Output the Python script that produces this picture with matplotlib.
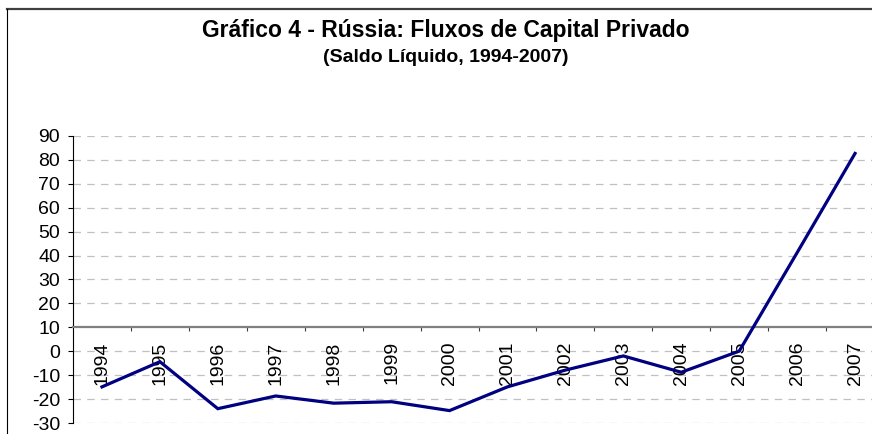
import numpy as np
import matplotlib
matplotlib.use("Agg")
import matplotlib.pyplot as plt
from matplotlib.lines import Line2D

plt.rcParams['font.family'] = ['Liberation Sans', 'DejaVu Sans']

# data
anos = ['1994', '1995', '1996', '1997', '1998', '1999', '2000',
        '2001', '2002', '2003', '2004', '2005', '2006', '2007']
saldo = [-14.8, -4.3, -23.9, -18.6, -21.6, -21.0, -24.7,
         -14.8, -7.8, -1.9, -8.7, 0.1, 41.2, 82.6]
y_ticks = list(range(-30, 91, 10))

W, H = 872, 434
fig = plt.figure(figsize=(W / 100, H / 100), dpi=100)

# plot area in pixels (right edge runs past the crop like the original)
left_px, right_px, top_px, bot_px = 73, 884, 135.7, 423.3
ax = fig.add_axes([left_px / W, 1 - bot_px / H,
                   (right_px - left_px) / W, (bot_px - top_px) / H])

x = np.arange(len(anos))
ax.plot(x, saldo, color='#000080', lw=2.3, solid_joinstyle='miter', zorder=5)

ax.set_xlim(-0.5, len(anos) - 0.5)
ax.set_ylim(-30, 90)

# horizontal dashed gridlines, except where the x axis crosses
for v in y_ticks:
    if v == 10:
        continue
    ax.axhline(v, color='#c0c0c0', lw=0.9, dashes=(6, 5), zorder=1)

# spines: x axis crosses at 10
for s in ['top', 'right']:
    ax.spines[s].set_visible(False)
ax.spines['bottom'].set_position(('data', 10))
ax.spines['bottom'].set_color('#808080')
ax.spines['bottom'].set_linewidth(1.6)
ax.spines['left'].set_color('black')
ax.spines['left'].set_linewidth(0.8)

ax.set_yticks(y_ticks)
ax.set_yticklabels([str(v) for v in y_ticks])
ax.tick_params(axis='y', direction='out', length=3.3, width=0.8, pad=6,
               labelsize=14, colors='black')

# boundary ticks (major) and year labels at centres (minor)
ax.set_xticks(np.arange(0.5, len(anos) - 0.5, 1.0))
ax.set_xticklabels([])
ax.tick_params(axis='x', which='major', direction='out', length=3.2,
               width=0.8, color='#404040')
ax.set_xticks(x, minor=True)
ax.set_xticklabels(anos, minor=True, rotation=90, va='top', fontsize=14)
ax.tick_params(axis='x', which='minor', length=0, pad=10)

# titles
fig.text(446 / W, 1 - 31 / H, 'Gráfico 4 - Rússia: Fluxos de Capital Privado',
         ha='center', va='center', fontsize=16.5, fontweight='bold')
fig.text(446 / W, 1 - 58 / H, '(Saldo Líquido, 1994-2007)',
         ha='center', va='center', fontsize=14, fontweight='bold')

# chart frame (cropped on right and bottom)
fig.add_artist(Line2D([7 / W, 1], [1 - 8.5 / H, 1 - 8.5 / H],
                      color='#404040', lw=1.6, transform=fig.transFigure))
fig.add_artist(Line2D([7 / W, 7 / W], [0, 1 - 8.5 / H],
                      color='black', lw=0.8, transform=fig.transFigure))

fig.savefig('out.png', dpi=100)
